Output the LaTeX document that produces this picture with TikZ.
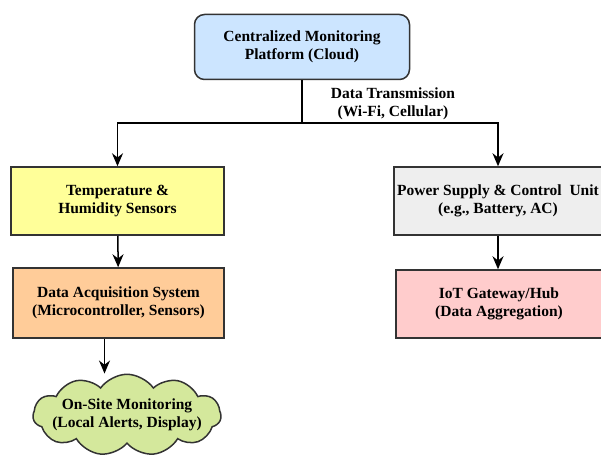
\documentclass[tikz,border=0pt]{standalone}
\usepackage{fontspec}
\setmainfont{Liberation Serif}
\usetikzlibrary{arrows.meta,shapes.symbols}
\definecolor{cloudblue}{HTML}{CCE5FF}
\definecolor{sensyellow}{HTML}{FFFF99}
\definecolor{daqorange}{HTML}{FFCC99}
\definecolor{powergray}{HTML}{EEEEEE}
\definecolor{gatepink}{HTML}{FFCCCC}
\definecolor{sitegreen}{HTML}{D4E89C}
\definecolor{edgegray}{HTML}{333333}
\begin{document}
\begin{tikzpicture}[
    x=1pt, y=-1pt,
    font=\bfseries\fontsize{15.5}{18}\selectfont,
    block/.style={rectangle, draw=edgegray, line width=1.5pt, align=center,
      minimum height=68pt, minimum width=212pt, inner sep=2pt},
    >={Stealth[length=13pt,width=11pt]}
]
\useasboundingbox (0,0) rectangle (601,457);
% Plattform und Sensorik
\node[block, rounded corners=10pt, fill=cloudblue, minimum width=215pt, minimum height=65pt] at (302,47) (platform) {Centralized Monitoring\\Platform (Cloud)};
\node[block, fill=sensyellow, minimum width=213pt] at (117.5,201) (sensors) {Temperature \&\\Humidity Sensors};
\node[block, fill=daqorange, minimum width=211pt, minimum height=70pt] at (118.5,303) (daq) {Data Acquisition System\\(Microcontroller, Sensors)};
\node[block, fill=powergray, minimum width=208pt] at (498,201) (power) {Power Supply \& Control\ \ Unit\\(e.g., Battery, AC)};
\node[block, fill=gatepink, minimum width=206pt] at (499,304) (gateway) {IoT Gateway/Hub\\(Data Aggregation)};
\node[cloud, cloud puffs=11, cloud puff arc=110, aspect=2.4, draw=edgegray, line width=1.5pt, fill=sitegreen, align=center, minimum width=188pt, minimum height=80pt, inner xsep=-22pt, inner ysep=-12pt] at (127,415) (onsite) {On-Site Monitoring\\(Local Alerts, Display)};
\node[align=center] at (393,104) (link) {Data Transmission\\(Wi-Fi, Cellular)};

% Verbindungen
\coordinate (split) at (302,123);
\draw[line width=1.5pt] (platform.south) -- (split);
\draw[->, line width=1.5pt] (split) -| (sensors.north);
\draw[->, line width=1.5pt] (split) -| (power.north);
\draw[->, line width=1.5pt] (sensors) -- (daq);
\draw[->, line width=1.5pt] (power.south) -- (power.south |- gateway.north);
\draw[->, line width=1.5pt] ([xshift=-14pt]daq.south) -- ([xshift=-14pt]daq.south |- onsite.north);
\end{tikzpicture}
\end{document}
